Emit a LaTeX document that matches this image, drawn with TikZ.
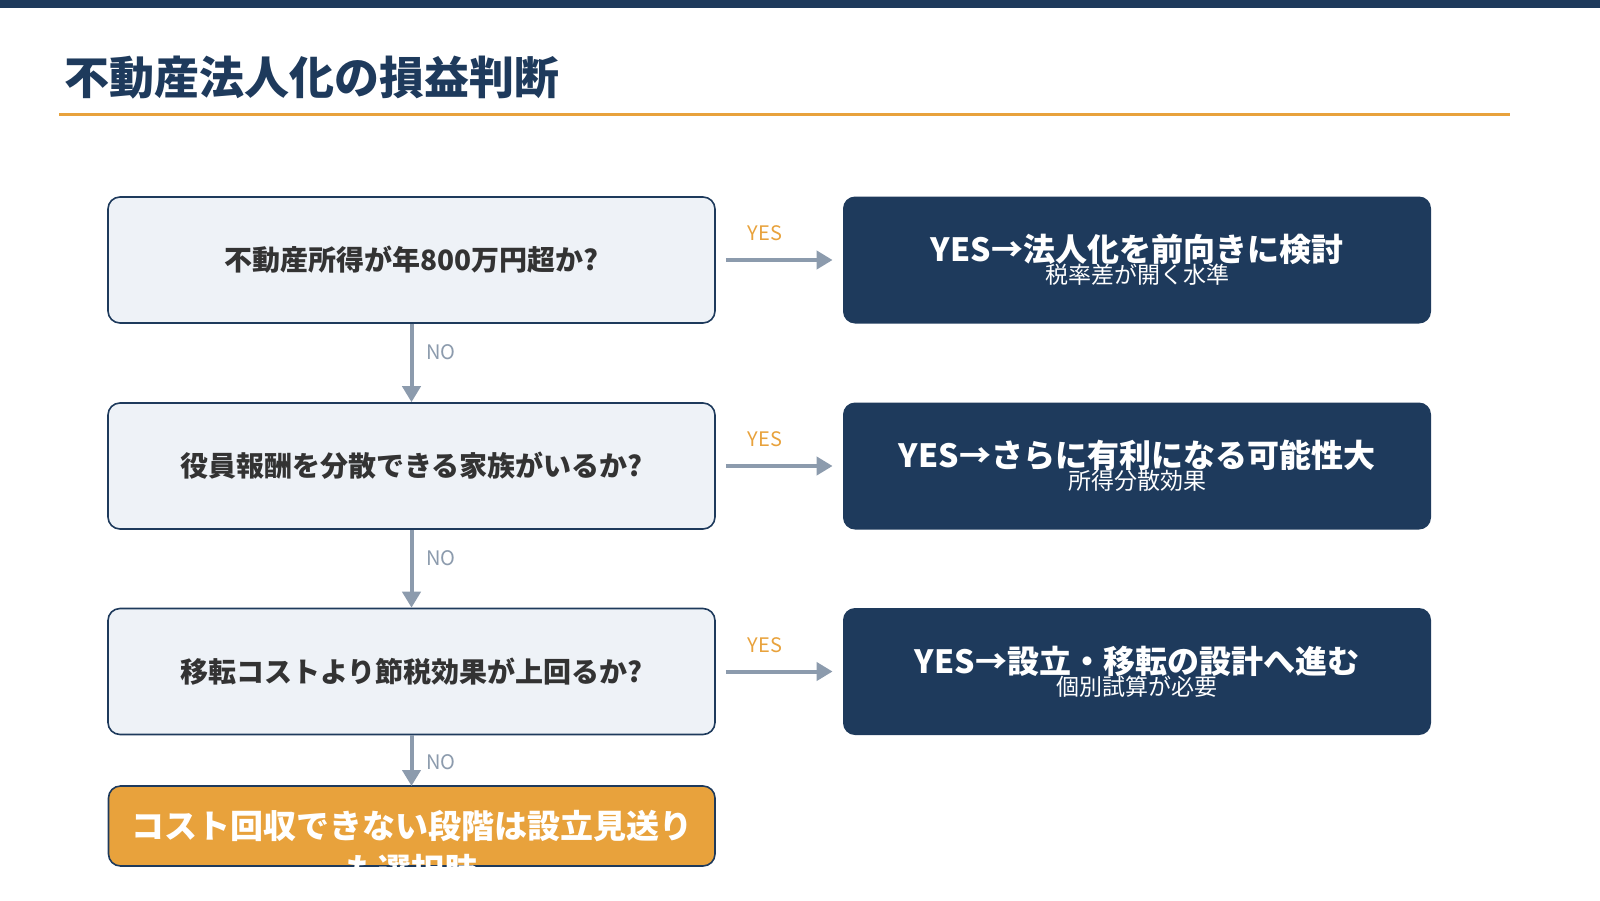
\documentclass[tikz,border=0pt]{standalone}
\usepackage{fontspec}
\setmainfont{Noto Sans CJK JP}
\usetikzlibrary{arrows.meta}
\definecolor{navy}{HTML}{1E3A5C}
\definecolor{pale}{HTML}{EEF2F7}
\definecolor{org}{HTML}{E8A23C}
\definecolor{gry}{HTML}{8C9BAD}
\definecolor{txt}{HTML}{333333}
\tikzset{
 q/.style={draw=navy,line width=0.8pt,fill=pale,rounded corners=6pt,minimum width=303.5pt,minimum height=63pt,font=\fontsize{14}{16}\selectfont\bfseries,text=txt},
 r/.style={fill=navy,rounded corners=6pt,minimum width=294pt,minimum height=63.5pt,text=white,align=center},
 ar/.style={draw=gry,line width=2pt,-{Triangle[length=8pt,width=9pt]}},
 yl/.style={text=org,font=\fontsize{10}{12}\selectfont},
 nl/.style={text=gry,font=\fontsize{10}{12}\selectfont,anchor=west},
}
\begin{document}
\begin{tikzpicture}[x=0.5pt,y=-0.5pt]
\useasboundingbox (0,0) rectangle (1600,900);
\fill[navy] (0,0) rectangle (1600,8);
\node[anchor=west,text=navy,font=\fontsize{22.5}{26}\selectfont\bfseries] (title) at (57,78) {不動産法人化の損益判断};
\draw[org,line width=1.5pt] (59,114) -- (1510,114);
\node[q] (q1) at (411.5,260) {不動産所得が年800万円超か?};
\node[q] (q2) at (411.5,466) {役員報酬を分散できる家族がいるか?};
\node[q] (q3) at (411.5,671.5) {移転コストより節税効果が上回るか?};
\node[r] (r1) at (1137,260) {{\fontsize{16}{20}\selectfont\bfseries YES→法人化を前向きに検討}\\[-1pt]{\fontsize{11.5}{14}\selectfont 税率差が開く水準}};
\node[r] (r2) at (1137,466) {{\fontsize{16}{20}\selectfont\bfseries YES→さらに有利になる可能性大}\\[-1pt]{\fontsize{11.5}{14}\selectfont 所得分散効果}};
\node[r] (r3) at (1137,671.5) {{\fontsize{16}{20}\selectfont\bfseries YES→設立・移転の設計へ進む}\\[-1pt]{\fontsize{11.5}{14}\selectfont 個別試算が必要}};
\coordinate (bt) at (411.5,786);
\draw[navy,line width=0.8pt,fill=org,rounded corners=6pt] (108.5,786) rectangle (715,866);
\begin{scope}
\clip (100,786) rectangle (720,868);
\node[text=white,font=\fontsize{16.5}{22}\selectfont\bfseries,align=center] (b) at (411.5,848) {コスト回収できない段階は設立見送り\\も選択肢};
\end{scope}
\draw[ar] (q1.south) -- ([yshift=0pt]q2.north);
\draw[ar] (q2.south) -- (q3.north);
\draw[ar] (q3.south) -- (bt);
\node[nl] (n1) at (419,352) {NO};
\node[nl] (n2) at (419,558) {NO};
\node[nl] (n3) at (419,762) {NO};
\draw[ar] ([xshift=5pt]q1.east) -- ([xshift=-5pt]r1.west);
\draw[ar] ([xshift=5pt]q2.east) -- ([xshift=-5pt]r2.west);
\draw[ar] ([xshift=5pt]q3.east) -- ([xshift=-5pt]r3.west);
\node[yl] (y1) at (765,233) {YES};
\node[yl] (y2) at (765,439) {YES};
\node[yl] (y3) at (765,645) {YES};
\end{tikzpicture}
\end{document}
